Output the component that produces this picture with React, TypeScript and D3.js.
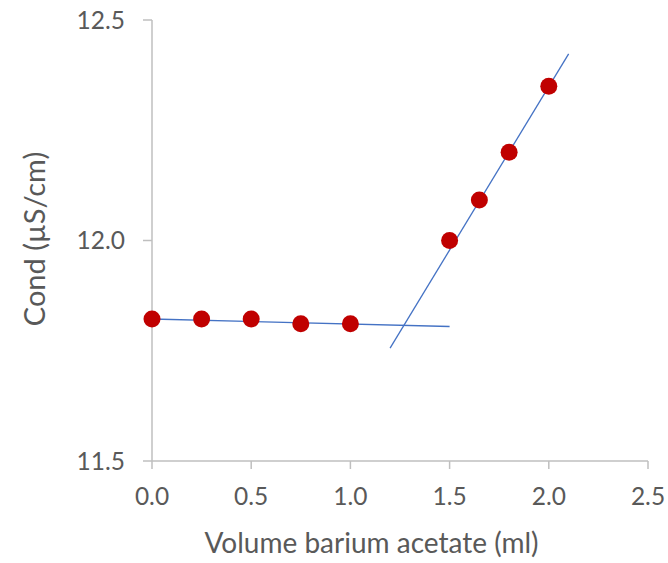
import * as d3 from "d3";
import * as React from "react";

// titration data: volume (ml) vs conductivity
const volumes = [0, 0.25, 0.5, 0.75, 1.0, 1.5, 1.65, 1.8, 2.0];
const conds = [11.822, 11.822, 11.822, 11.811, 11.811, 12.0, 12.092, 12.2, 12.35];

// two fitted trend lines (start / end points)
const fitBeforeX = [0, 1.5];
const fitBeforeY = [11.822, 11.805];
const fitAfterX = [1.2, 2.1];
const fitAfterY = [11.756, 12.423];

const xTicks = [0, 0.5, 1.0, 1.5, 2.0, 2.5];
const yTicks = [11.5, 12.0, 12.5];

export default function App() {
  const width = 668;
  const height = 563;
  const marginLeft = 152;
  const marginRight = 20;
  const marginTop = 20;
  const marginBottom = 102;
  const axisColor = "#bfbfbf";
  const textColor = "#595959";
  const font = "Lato, 'Open Sans', sans-serif";

  const x = d3.scaleLinear().domain([0, 2.5]).range([marginLeft, width - marginRight]);
  const y = d3.scaleLinear().domain([11.5, 12.5]).range([height - marginBottom, marginTop]);

  const line = d3.line<[number, number]>()
    .x((d) => x(d[0]))
    .y((d) => y(d[1]));
  const before = fitBeforeX.map((v, i) => [v, fitBeforeY[i]] as [number, number]);
  const after = fitAfterX.map((v, i) => [v, fitAfterY[i]] as [number, number]);

  const y0 = y(11.5);

  return (
    <svg width={width} height={height} style={{ position: "absolute", left: 0, top: 0 }}>
      <rect width={width} height={height} fill="#ffffff" />
      {/* y axis */}
      <line x1={x(0)} x2={x(0)} y1={y(12.5)} y2={y0} stroke={axisColor} strokeWidth={1.5} />
      {yTicks.map((t) => (
        <g key={"yt" + t}>
          <line x1={x(0) - 9} x2={x(0)} y1={y(t)} y2={y(t)} stroke={axisColor} strokeWidth={1.5} />
          <text x={x(0) - 27} y={y(t)} dy="0.36em" textAnchor="end" fontSize={24.5} fill={textColor} fontFamily={font}>
            {t.toFixed(1)}
          </text>
        </g>
      ))}
      {/* x axis */}
      <line x1={x(0)} x2={x(2.5)} y1={y0} y2={y0} stroke={axisColor} strokeWidth={1.5} />
      {xTicks.map((t) => (
        <g key={"xt" + t}>
          <line x1={x(t)} x2={x(t)} y1={y0} y2={y0 + 8} stroke={axisColor} strokeWidth={1.5} />
          <text x={x(t)} y={y0 + 44} textAnchor="middle" fontSize={24.5} fill={textColor} fontFamily={font}>
            {t.toFixed(1)}
          </text>
        </g>
      ))}
      {/* trend lines */}
      <path d={line(before)} fill="none" stroke="#4472c4" strokeWidth={1.3} />
      <path d={line(after)} fill="none" stroke="#4472c4" strokeWidth={1.3} />
      {/* data points */}
      {volumes.map((v, i) => (
        <circle key={"pt" + i} cx={x(v)} cy={y(conds[i])} r={8.5} fill="#c00000" />
      ))}
      {/* axis titles */}
      <text x={371.5} y={553} textAnchor="middle" fontSize={28} fill={textColor} fontFamily={font}>
        Volume barium acetate (ml)
      </text>
      <text transform={`translate(45,239) rotate(-90)`} textAnchor="middle" fontSize={29} fill={textColor} fontFamily={font}>
        Cond (µS/cm)
      </text>
    </svg>
  );
}
